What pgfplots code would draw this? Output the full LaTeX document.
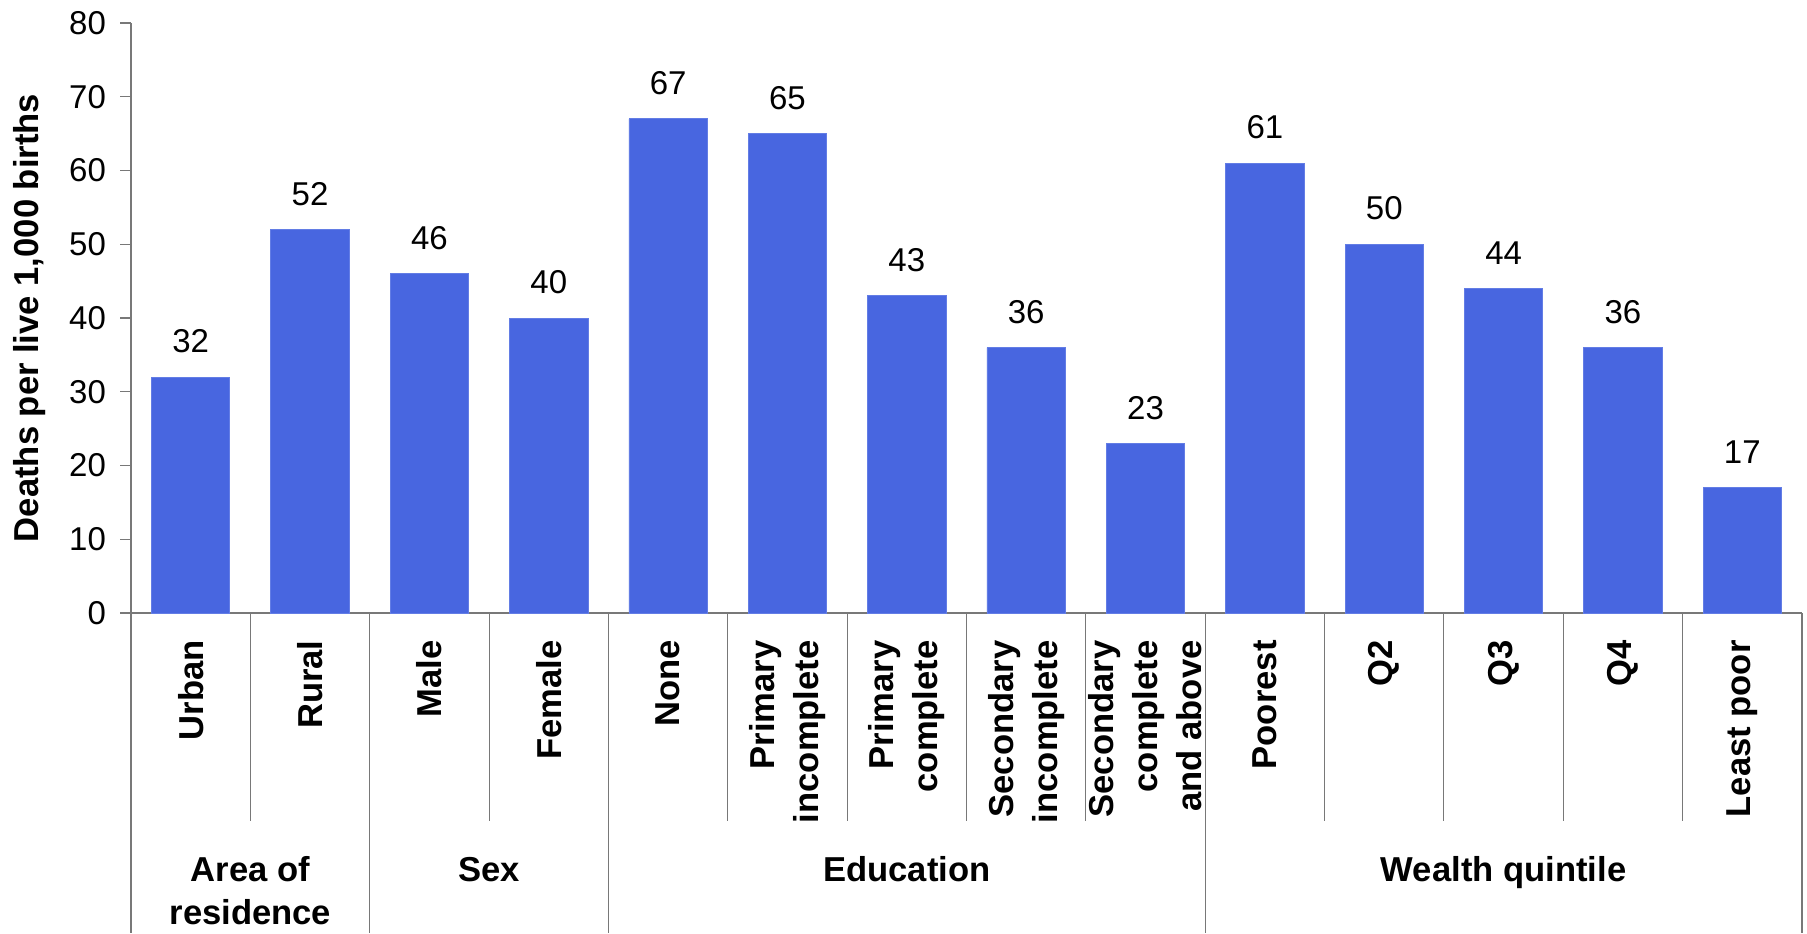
\documentclass[border=0pt]{standalone}
\usepackage{fontspec}
\setmainfont{Liberation Sans}
\usepackage{pgfplots}
\pgfplotsset{compat=1.18}
\definecolor{barblue}{RGB}{72,102,224}
\definecolor{linegray}{RGB}{120,120,120}
\begin{document}
\begin{tikzpicture}
\begin{axis}[
  at={(65.5pt,160pt)}, anchor=south west,
  scale only axis,
  width=835.5pt, height=295pt,
  xmin=-0.5, xmax=13.5, ymin=0, ymax=80,
  ybar, bar width=39.2pt,
  xtick=\empty,
  ytick={0,10,...,80},
  axis x line*=bottom, axis y line*=left,
  axis line style={-, linegray, line width=0.6pt},
  ytick style={linegray, line width=0.6pt},
  tick align=outside, major tick length=5.5pt,
  /pgf/number format/assume math mode=true,
  yticklabel style={font=\fontsize{16.5}{19}\selectfont, xshift=-3.5pt},
  ylabel={\bfseries Deaths per live 1,000 births},
  ylabel style={at={(axis description cs:-0.061,0.5)}, anchor=center, font=\fontsize{17.3}{20}\selectfont},
  nodes near coords,
  every node near coord/.append style={font=\fontsize{16.5}{19}\selectfont, inner sep=0pt, anchor=south, yshift=11.8pt, black},
  clip=false,
]
\addplot[fill=barblue, draw=barblue!85!white, line width=0.4pt] coordinates {
  (0,32) (1,52) (2,46) (3,40) (4,67) (5,65) (6,43) (7,36) (8,23) (9,61) (10,50) (11,44) (12,36) (13,17)
};
% category separators
\pgfplotsinvokeforeach{0.5,2.5,4.5,5.5,6.5,7.5,9.5,10.5,11.5,12.5}{
  \draw[linegray, line width=0.5pt] (axis cs:#1,0) -- ([yshift=-104pt]axis cs:#1,0);
}
% group separators
\pgfplotsinvokeforeach{-0.5,1.5,3.5,8.5,13.5}{
  \draw[linegray, line width=0.6pt] (axis cs:#1,0) -- ([yshift=-160pt]axis cs:#1,0);
}
% tick labels
\tikzset{tl/.style={rotate=90, anchor=east, inner sep=0pt, align=right, font=\fontsize{17.3}{22}\selectfont\bfseries}}
\node[tl] at ([yshift=-13.5pt]axis cs:0,0) {Urban};
\node[tl] at ([yshift=-13.5pt]axis cs:1,0) {Rural};
\node[tl] at ([yshift=-13.5pt]axis cs:2,0) {Male};
\node[tl] at ([yshift=-13.5pt]axis cs:3,0) {Female};
\node[tl] at ([yshift=-13.5pt]axis cs:4,0) {None};
\node[tl] at ([yshift=-13.5pt]axis cs:5,0) {Primary\\incomplete};
\node[tl] at ([yshift=-13.5pt]axis cs:6,0) {Primary\\complete};
\node[tl] at ([yshift=-13.5pt]axis cs:7,0) {Secondary\\incomplete};
\node[tl] at ([yshift=-13.5pt]axis cs:8,0) {Secondary\\complete\\and above};
\node[tl] at ([yshift=-13.5pt]axis cs:9,0) {Poorest};
\node[tl] at ([yshift=-13.5pt]axis cs:10,0) {Q2};
\node[tl] at ([yshift=-13.5pt]axis cs:11,0) {Q3};
\node[tl] at ([yshift=-13.5pt]axis cs:12,0) {Q4};
\node[tl] at ([yshift=-13.5pt]axis cs:13,0) {Least poor};
% group labels
\tikzset{gl/.style={anchor=base, inner sep=0pt, font=\fontsize{17.3}{21}\selectfont\bfseries}}
\node[gl] at ([yshift=-134.25pt]axis cs:0.5,0) {Area of};
\node[gl] at ([yshift=-155.75pt]axis cs:0.5,0) {residence};
\node[gl] at ([yshift=-134.25pt]axis cs:2.5,0) {Sex};
\node[gl] at ([yshift=-134.25pt]axis cs:6,0) {Education};
\node[gl] at ([yshift=-134.25pt]axis cs:11,0) {Wealth quintile};
\end{axis}
\pgfresetboundingbox
\path[use as bounding box] (0,0) rectangle (903.5pt,466.5pt);
\end{tikzpicture}
\end{document}
